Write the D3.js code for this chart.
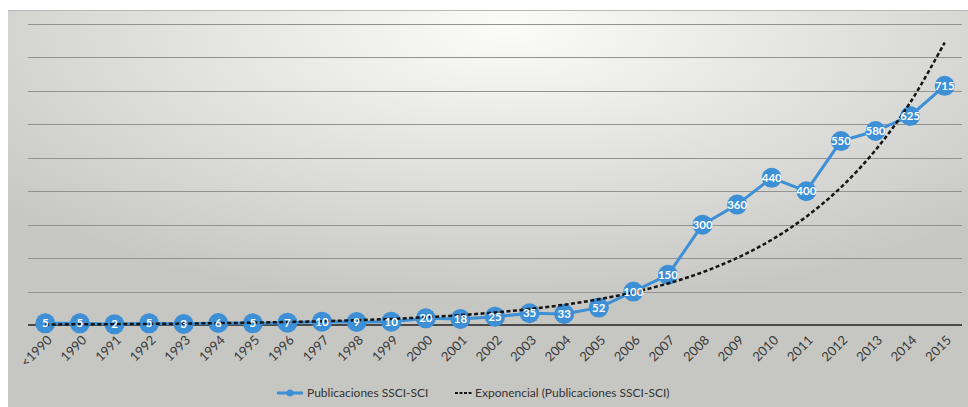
<!DOCTYPE html>
<html lang="es">
<head>
    <meta charset="UTF-8">
    <title>Publicaciones SSCI-SCI</title>
    <script src="https://cdn.jsdelivr.net/npm/d3@7"></script>
    <style>
        * { margin: 0; padding: 0; }
        body { background: #fff; width: 968px; height: 407px; overflow: hidden; }
        svg text { font-family: Lato, "Open Sans", sans-serif; }
    </style>
</head>
<body>
    <div id="content"></div>
    <script>
        // datos
        var years = ["<1990", "1990", "1991", "1992", "1993", "1994", "1995", "1996", "1997",
                     "1998", "1999", "2000", "2001", "2002", "2003", "2004", "2005", "2006",
                     "2007", "2008", "2009", "2010", "2011", "2012", "2013", "2014", "2015"];
        var pubs = [5, 5, 2, 5, 3, 6, 5, 7, 10, 9, 10, 20, 18, 25, 35, 33, 52, 100,
                    150, 300, 360, 440, 400, 550, 580, 625, 715];
        var yTicks = [0, 100, 200, 300, 400, 500, 600, 700, 800, 900];
        var seriesName = "Publicaciones SSCI-SCI";
        var trendName = "Exponencial (Publicaciones SSCI-SCI)";

        var width = 968, height = 407;
        var blue = "#3d8fd6";

        var svg = d3.select("#content").append("svg")
                .attr("width", width).attr("height", height);

        // fondo (papel escaneado)
        var defs = svg.append("defs");
        var grad = defs.append("radialGradient").attr("id", "paper")
                .attr("cx", "52%").attr("cy", "5%").attr("r", "70%");
        grad.append("stop").attr("offset", "0%").attr("stop-color", "#fbfbfa");
        grad.append("stop").attr("offset", "35%").attr("stop-color", "#e9eae7");
        grad.append("stop").attr("offset", "100%").attr("stop-color", "#c6c7c3");
        svg.append("rect").attr("x", 8).attr("y", 10)
                .attr("width", width - 8).attr("height", height - 10)
                .attr("fill", "url(#paper)");
        svg.append("line").attr("x1", 8).attr("x2", width).attr("y1", 10.5).attr("y2", 10.5)
                .attr("stroke", "#b8b8b6").attr("stroke-width", 1);

        /* escalas */
        var xScale = d3.scalePoint().domain(years).range([28, 962]).padding(0.5);
        var yScale = d3.scaleLinear().domain([0, 900]).range([325, 24]);

        // lineas de cuadricula
        svg.append("g").selectAll("line").data(yTicks.slice(1)).enter().append("line")
                .attr("x1", 28).attr("x2", 962)
                .attr("y1", function(d){ return Math.round(yScale(d)) + 0.5; })
                .attr("y2", function(d){ return Math.round(yScale(d)) + 0.5; })
                .attr("stroke", "#929290").attr("stroke-width", 1);

        // eje x
        var xAxis = d3.axisBottom(xScale).tickSize(0).tickPadding(0);
        var gx = svg.append("g").attr("transform", "translate(0," + yScale(0) + ")").call(xAxis);
        gx.select(".domain").attr("stroke", "#4a4a4a").attr("stroke-width", 2).attr("d", "M28,0H962");
        gx.selectAll("text")
                .attr("fill", "#3a3a3a").attr("font-size", 13)
                .attr("text-anchor", "end")
                .attr("dy", 0)
                .attr("transform", "translate(7,16) rotate(-45)");

        // serie
        var line = d3.line()
                .x(function(d, i){ return xScale(years[i]); })
                .y(function(d){ return yScale(d); });
        svg.append("path").attr("d", line(pubs))
                .attr("fill", "none").attr("stroke", blue).attr("stroke-width", 3);

        svg.append("g").selectAll("circle").data(pubs).enter().append("circle")
                .attr("cx", function(d, i){ return xScale(years[i]); })
                .attr("cy", function(d){ return yScale(d); })
                .attr("r", 10).attr("fill", blue);

        // linea de tendencia exponencial (ajuste por minimos cuadrados sobre ln y)
        var xs = pubs.map(function(d, i){ return i + 1; });
        var ls = pubs.map(function(d){ return Math.log(d); });
        var mx = d3.mean(xs), ml = d3.mean(ls);
        var sxy = d3.sum(xs, function(x, i){ return (x - mx) * (ls[i] - ml); });
        var sxx = d3.sum(xs, function(x){ return (x - mx) * (x - mx); });
        var b = sxy / sxx, a = Math.exp(ml - b * mx);
        var trend = xs.map(function(x){ return a * Math.exp(b * x); });

        var trendLine = d3.line()
                .x(function(d, i){ return xScale(years[i]); })
                .y(function(d){ return yScale(d); })
                .curve(d3.curveCatmullRom);
        svg.append("path").attr("d", trendLine(trend))
                .attr("fill", "none").attr("stroke", "#151515")
                .attr("stroke-width", 2.5).attr("stroke-dasharray", "4,2.5");

        // etiquetas de datos
        svg.append("g").selectAll("text").data(pubs).enter().append("text")
                .attr("x", function(d, i){ return xScale(years[i]); })
                .attr("y", function(d){ return yScale(d) + 4; })
                .attr("text-anchor", "middle")
                .attr("font-size", 11.5).attr("font-weight", "bold")
                .attr("fill", "#fff")
                .text(function(d){ return d; });

        // leyenda
        var lg = svg.append("g").attr("transform", "translate(0,393)");
        lg.append("line").attr("x1", 277).attr("x2", 303).attr("y1", 0).attr("y2", 0)
                .attr("stroke", blue).attr("stroke-width", 3);
        lg.append("circle").attr("cx", 290).attr("cy", 0).attr("r", 3.5).attr("fill", blue);
        lg.append("text").attr("x", 307).attr("y", 4).attr("font-size", 12)
                .attr("fill", "#333").text(seriesName);
        lg.append("line").attr("x1", 455).attr("x2", 473).attr("y1", 0).attr("y2", 0)
                .attr("stroke", "#151515").attr("stroke-width", 2).attr("stroke-dasharray", "3,1.5");
        lg.append("text").attr("x", 475).attr("y", 4).attr("font-size", 12)
                .attr("fill", "#333").text(trendName);
    </script>
</body>
</html>
